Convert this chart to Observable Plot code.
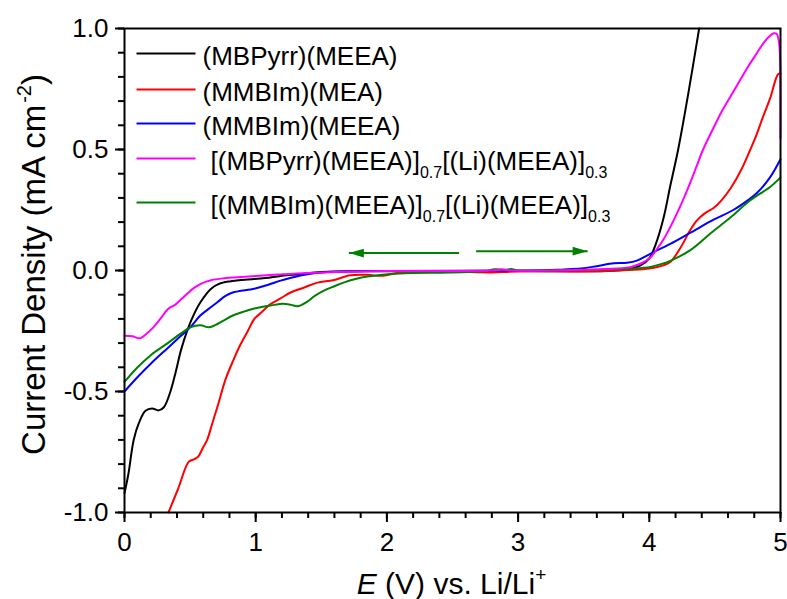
<!DOCTYPE html>
<html>
<head>
<meta charset="utf-8">
<script src="https://cdn.jsdelivr.net/npm/d3@7"></script>
<script src="https://cdn.jsdelivr.net/npm/@observablehq/plot@0.6"></script>
<style>
  html, body { margin: 0; padding: 0; background: #fff; }
  svg { display: block; }
</style>
</head>
<body>
<div id="chart"></div>
<script>
// ---- Data (E in V vs Li/Li+, current density in mA cm^-2) ----
const seriesLabels = [
  "(MBPyrr)(MEEA)",
  "(MMBIm)(MEA)",
  "(MMBIm)(MEEA)",
  "[(MBPyrr)(MEEA)]_{0.7}[(Li)(MEEA)]_{0.3}",
  "[(MMBIm)(MEEA)]_{0.7}[(Li)(MEEA)]_{0.3}"
];
const seriesColors = ["#000000", "#ff0000", "#0000ff", "#ff00ff", "#008000"];

const mbpyrrMEEA = [
  [0,-0.92],[0.03,-0.84],[0.07,-0.70],[0.11,-0.63],[0.16,-0.58],[0.21,-0.57],[0.26,-0.578],
  [0.30,-0.565],[0.35,-0.5],[0.39,-0.42],[0.43,-0.33],[0.48,-0.245],[0.53,-0.18],[0.58,-0.13],
  [0.66,-0.075],[0.72,-0.055],[0.8,-0.045],[0.99,-0.035],[1.1,-0.03],[1.2,-0.022],[1.34,-0.015],
  [1.5,-0.006],[2.0,-0.003],[3.0,-0.002],[3.8,0.002],[3.93,0.02],[4.0,0.05],[4.05,0.11],
  [4.11,0.22],[4.16,0.35],[4.22,0.5],[4.3,0.74],[4.38,1.0]
];
const mmbimMEA = [
  [0.335,-1.0],[0.41,-0.9],[0.49,-0.79],[0.53,-0.78],[0.56,-0.77],[0.6,-0.73],[0.63,-0.70],
  [0.67,-0.63],[0.71,-0.56],[0.77,-0.45],[0.83,-0.37],[0.88,-0.31],[0.94,-0.25],[0.99,-0.2],
  [1.04,-0.175],[1.11,-0.14],[1.19,-0.115],[1.27,-0.09],[1.37,-0.07],[1.47,-0.05],[1.59,-0.04],
  [1.72,-0.02],[1.85,-0.018],[1.97,-0.022],[2.1,-0.008],[2.5,-0.005],[2.77,-0.008],[3.0,-0.004],
  [3.6,-0.003],[3.84,0.002],[4.0,0.008],[4.1,0.02],[4.16,0.035],[4.24,0.096],[4.31,0.165],
  [4.36,0.205],[4.42,0.235],[4.49,0.258],[4.55,0.29],[4.62,0.34],[4.70,0.415],[4.77,0.5],
  [4.82,0.565],[4.87,0.64],[4.92,0.71],[4.98,0.81],[5.0,0.815]
];
const mmbimMEEA = [
  [0,-0.5],[0.1,-0.44],[0.21,-0.38],[0.33,-0.32],[0.43,-0.27],[0.5,-0.235],[0.58,-0.185],
  [0.65,-0.155],[0.71,-0.13],[0.77,-0.105],[0.83,-0.09],[0.99,-0.075],[1.09,-0.06],[1.19,-0.042],
  [1.27,-0.03],[1.35,-0.02],[1.42,-0.013],[1.6,-0.005],[2.0,-0.002],[3.0,0.0],[3.3,0.003],
  [3.48,0.008],[3.6,0.018],[3.73,0.03],[3.83,0.032],[3.91,0.042],[4.01,0.07],[4.16,0.11],
  [4.31,0.155],[4.49,0.21],[4.64,0.25],[4.75,0.29],[4.82,0.32],[4.92,0.385],[5.0,0.46]
];
const mbpyrrLi = [
  [0,-0.27],[0.06,-0.272],[0.12,-0.28],[0.17,-0.26],[0.22,-0.235],[0.28,-0.195],[0.33,-0.16],
  [0.39,-0.14],[0.44,-0.115],[0.48,-0.095],[0.53,-0.072],[0.58,-0.055],[0.66,-0.04],[0.76,-0.032],
  [0.86,-0.028],[1.0,-0.023],[1.17,-0.017],[1.4,-0.01],[1.7,-0.005],[2.0,-0.002],[2.8,0.0],
  [2.88,0.004],[2.95,0.0],[3.5,0.003],[3.75,0.008],[3.86,0.015],[3.94,0.03],[4.01,0.055],
  [4.06,0.09],[4.11,0.13],[4.16,0.18],[4.21,0.235],[4.26,0.295],[4.31,0.36],[4.36,0.43],
  [4.41,0.5],[4.49,0.59],[4.55,0.655],[4.62,0.72],[4.69,0.785],[4.75,0.84],[4.81,0.89],
  [4.87,0.94],[4.92,0.97],[4.95,0.98],[4.97,0.978],[4.985,0.955],[4.995,0.9],[5.0,0.8],[5.0,0.545]
];
const mmbimLi = [
  [0,-0.46],[0.1,-0.4],[0.2,-0.35],[0.33,-0.3],[0.43,-0.26],[0.5,-0.235],[0.58,-0.226],
  [0.64,-0.235],[0.69,-0.226],[0.75,-0.208],[0.83,-0.185],[0.92,-0.168],[0.99,-0.157],
  [1.11,-0.145],[1.21,-0.137],[1.27,-0.142],[1.32,-0.148],[1.39,-0.13],[1.45,-0.105],
  [1.52,-0.083],[1.6,-0.065],[1.67,-0.05],[1.76,-0.035],[1.85,-0.025],[2.1,-0.012],[2.48,-0.008],
  [2.75,-0.003],[2.82,0.005],[2.9,0.003],[2.95,0.006],[3.0,0.0],[3.5,0.002],[3.86,0.008],
  [4.01,0.015],[4.1,0.028],[4.16,0.04],[4.31,0.083],[4.47,0.155],[4.62,0.22],[4.77,0.29],
  [4.92,0.345],[5.0,0.385]
];
const seriesData = [mbpyrrMEEA, mmbimMEA, mmbimMEEA, mbpyrrLi, mmbimLi];
const drawOrder = [0, 1, 2, 4, 3];

// scan-direction arrows
const arrowStartX = [2.55, 2.68];
const arrowTipX = [1.71, 3.53];
const arrowY = [0.072, 0.08];
const arrowRotate = [180, 0];

// axes ticks and labels
const majorXTicks = [0, 1, 2, 3, 4, 5];
const minorXTicks = d3.range(0, 26).map(i => +(i * 0.2).toFixed(1));
const majorYTicks = [-1.0, -0.5, 0.0, 0.5, 1.0];
const minorYTicks = d3.range(0, 21).map(i => +(-1 + i * 0.1).toFixed(1));
const xLabelParts = [["E", "italic"], [" (V) vs. Li/Li", "normal"], ["+", "sup"]];
const yLabelParts = [["Current Density (mA cm", "normal"], ["-2", "sup"], [")", "normal"]];

// ---- Layout (pixels) ----
const W = 787, H = 599, ML = 124, MR = 7, MT = 28, MB = 87;
const FONT = "Liberation Sans";
const FONT_CSS = "'Liberation Sans', Arial, Helvetica, sans-serif";

// text measuring for rich text pieces (sub/superscripts)
const ctx = document.createElement("canvas").getContext("2d");
function measure(t, size, italic) {
  ctx.font = `${italic ? "italic " : ""}${size}px "${FONT}", Arial, sans-serif`;
  return ctx.measureText(t).width;
}
// Builds Plot.text marks for a label made of normal / italic / sup / sub parts,
// anchored at a pixel position (px, py) of the baseline.
function richText(parts, {px, py, size, rotate = 0, anchor = "start"}) {
  const pieces = parts.map(([t, kind]) => {
    const small = kind === "sup" || kind === "sub";
    const sz = small ? Math.round(size * 0.62) : size;
    const shift = kind === "sup" ? -size * 0.42 : kind === "sub" ? size * 0.33 : 0;
    return {t, sz, shift, italic: kind === "italic", w: measure(t, sz, kind === "italic")};
  });
  const total = d3.sum(pieces, p => p.w);
  let along = anchor === "middle" ? -total / 2 : 0;
  return pieces.map(p => {
    let x, y;
    if (rotate === -90) { x = px + p.shift; y = py - along; }
    else { x = px + along; y = py + p.shift; }
    along += p.w;
    return Plot.text([p.t], {
      text: d => d, frameAnchor: "top-left", dx: x - ML, dy: y - MT,
      textAnchor: "start", lineAnchor: "bottom", rotate,
      fontSize: p.sz, fontStyle: p.italic ? "italic" : "normal", fill: "black"
    });
  });
}
function parseLabel(label) {
  const parts = [];
  const re = /_\{([^}]*)\}/g;
  let last = 0, m;
  while ((m = re.exec(label)) !== null) {
    if (m.index > last) parts.push([label.slice(last, m.index), "normal"]);
    parts.push([m[1], "sub"]);
    last = re.lastIndex;
  }
  if (last < label.length) parts.push([label.slice(last), "normal"]);
  return parts;
}

// pixel -> data (for legend swatches placed in pixel layout)
const xDomain = [0, 5], yDomain = [-1, 1];
const pxToX = px => xDomain[0] + (px - ML) / (W - ML - MR) * (xDomain[1] - xDomain[0]);
const pxToY = py => yDomain[1] - (py - MT) / (H - MT - MB) * (yDomain[1] - yDomain[0]);

const legendLineY = [53, 89, 123, 158, 202];
const legendTextX = [202, 202, 202, 210, 210];
const legendSwatches = seriesLabels.map((_, i) => ({
  x1: pxToX(136), x2: pxToX(195), y: pxToY(legendLineY[i]), c: seriesColors[i]
}));

// ---- Build ----
const rowsFor = pts => pts.map(([x, y]) => ({x, y}));
const arrows = arrowStartX.map((x1, i) => ({x1, x2: arrowTipX[i], y: arrowY[i], r: arrowRotate[i]}));

const arrowHead = {
  draw(context, size) {
    const k = Math.sqrt(size / Math.PI) / 4;
    context.moveTo(0, 0);
    context.lineTo(-15 * k, -4.3 * k);
    context.lineTo(-15 * k, 4.3 * k);
    context.closePath();
  }
};

const chart = Plot.plot({
  width: W,
  height: H,
  marginLeft: ML,
  marginRight: MR,
  marginTop: MT,
  marginBottom: MB,
  style: {fontFamily: FONT_CSS, background: "white", color: "black"},
  x: {domain: xDomain},
  y: {domain: yDomain},
  marks: [
    Plot.axisX(minorXTicks, {tickSize: 6, strokeWidth: 2, text: null, label: null}),
    Plot.axisX(majorXTicks, {tickSize: 10, tickPadding: 10, strokeWidth: 2, fontSize: 26, tickFormat: d => String(d), label: null}),
    Plot.axisY(minorYTicks, {tickSize: 6, strokeWidth: 2, text: null, label: null}),
    Plot.axisY(majorYTicks, {tickSize: 9, tickPadding: 7, strokeWidth: 2, fontSize: 26, tickFormat: d => d.toFixed(1), label: null}),
    ...drawOrder.map(i => Plot.line(rowsFor(seriesData[i]), {
      x: "x", y: "y", stroke: seriesColors[i], strokeWidth: 2, curve: "catmull-rom"
    })),
    Plot.link(arrows, {x1: "x1", x2: "x2", y1: "y", y2: "y", stroke: "#008000", strokeWidth: 2}),
    Plot.dot(arrows, {x: "x2", y: "y", r: 4, symbol: arrowHead, fill: "#008000", stroke: "none", rotate: "r"}),
    Plot.frame({stroke: "black", strokeWidth: 2}),
    // legend
    Plot.link(legendSwatches, {x1: "x1", x2: "x2", y1: "y", y2: "y", stroke: "c", strokeWidth: 2}),
    ...seriesLabels.flatMap((label, i) =>
      richText(parseLabel(label), {px: legendTextX[i], py: legendLineY[i] + 11, size: 26})),
    // axis titles
    ...richText(xLabelParts, {px: 451, py: 593, size: 30, anchor: "middle"}),
    ...richText(yLabelParts, {px: 44, py: 264, size: 33, rotate: -90, anchor: "middle"})
  ]
});
document.getElementById("chart").appendChild(chart);
</script>
</body>
</html>
